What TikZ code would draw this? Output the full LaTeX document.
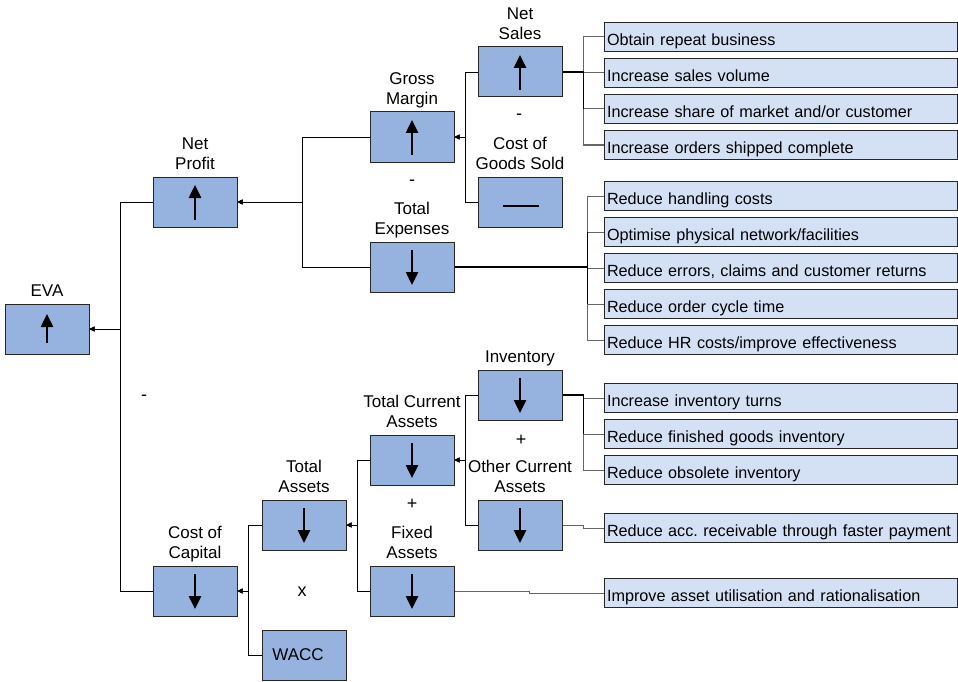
\documentclass[tikz,border=0pt]{standalone}
\usepackage{fontspec}
\setmainfont{Liberation Sans}
\usetikzlibrary{arrows.meta}
\definecolor{mainblue}{HTML}{95B3DE}
\definecolor{lightblue}{HTML}{D4E1F5}
\frenchspacing
\begin{document}
\begin{tikzpicture}[x=1pt,y=-1pt,
  mainbox/.style={draw=black!85, line width=1pt, fill=mainblue, minimum width=84pt, minimum height=50pt, inner sep=0pt, font=\fontsize{17}{20}\selectfont},
  tipbox/.style={draw=black!85, line width=0.9pt, fill=lightblue, minimum height=29.5pt, inner xsep=3pt, inner ysep=0pt, text width=347pt, align=left, text height=18pt, text depth=1.2pt, font=\fontsize{16.2}{19}\selectfont},
  lbl/.style={align=center, font=\fontsize{17}{20.4}\selectfont, inner sep=0pt, text depth=0pt, anchor=south},
  sign/.style={font=\fontsize{18}{20}\selectfont, inner sep=0pt},
  link/.style={draw=black, line width=0.9pt, -{Triangle[length=5pt,width=5pt]}},
  tiplink/.style={draw=black!60, line width=1pt},
  trunk/.style={draw=black, line width=1.8pt},
  bigarrow/.style={line width=2.5pt, -{Triangle[length=13pt,width=12pt]}},
]
\useasboundingbox (0,0) rectangle (958,682);

% main boxes
\node[mainbox] (eva) at (47,329) {};
\node[mainbox] (np) at (195,202) {};
\node[mainbox] (gm) at (412,137) {};
\node[mainbox] (ns) at (520,72) {};
\node[mainbox] (cogs) at (520,202) {};
\node[mainbox] (te) at (412,267) {};
\node[mainbox] (coc) at (195,591) {};
\node[mainbox] (ta) at (304,525) {};
\node[mainbox] (wacc) at (304,655) {\hspace*{-12pt}WACC};
\node[mainbox] (tca) at (412,460) {};
\node[mainbox] (fa) at (412,591) {};
\node[mainbox] (inv) at (520,395) {};
\node[mainbox] (oca) at (520,525) {};

% labels above boxes
\node[lbl] (leva) at ([yshift=7pt]eva.north) {EVA};
\node[lbl] (lnp) at ([yshift=6.5pt]np.north) {Net\\Profit};
\node[lbl] (lgm) at ([yshift=6.5pt]gm.north) {Gross\\Margin};
\node[lbl] (lns) at ([yshift=6.5pt]ns.north) {Net\\Sales};
\node[lbl] (lcogs) at ([yshift=6.5pt]cogs.north) {Cost of\\Goods Sold};
\node[lbl] (lte) at ([yshift=6.5pt]te.north) {Total\\Expenses};
\node[lbl] (lcoc) at ([yshift=6.5pt]coc.north) {Cost of\\Capital};
\node[lbl] (lta) at ([yshift=6.5pt]ta.north) {Total\\Assets};
\node[lbl] (ltca) at ([yshift=6.5pt]tca.north) {Total Current\\Assets};
\node[lbl] (lfa) at ([yshift=6.5pt]fa.north) {Fixed\\Assets};
\node[lbl] (linv) at ([yshift=7pt]inv.north) {Inventory};
\node[lbl] (loca) at ([yshift=6.5pt]oca.north) {Other Current\\Assets};

% signs
\node[sign] (s1) at (519,117) {-};
\node[sign] (s2) at (412,183) {-};
\node[sign] (s3) at (144,398) {-};
\node[sign] (s4) at (521,440) {+};
\node[sign] (s5) at (412,504) {+};
\node[sign] (s6) at (302,592) {x};

% arrows inside boxes
\draw[bigarrow] ([yshift=-14pt]eva.center) -- ([yshift=15pt]eva.center);
\foreach \n in {np,gm,ns}{
  \draw[bigarrow] ([yshift=-18pt]\n.center) -- ([yshift=17pt]\n.center);
}
\foreach \n in {te,coc,ta,tca,fa,inv,oca}{
  \draw[bigarrow] ([yshift=17pt]\n.center) -- ([yshift=-18pt]\n.center);
}
\draw[line width=2.5pt] ([xshift=-17pt,yshift=-4pt]cogs.center) -- ([xshift=19pt,yshift=-4pt]cogs.center);

% right boxes
\node[tipbox] (r1) at (780.5,37) {Obtain repeat business};
\node[tipbox] (r2) at (780.5,73) {Increase sales volume};
\node[tipbox] (r3) at (780.5,109) {Increase share of market and/or customer};
\node[tipbox] (r4) at (780.5,145) {Increase orders shipped complete};
\node[tipbox] (r5) at (780.5,196) {Reduce handling costs};
\node[tipbox] (r6) at (780.5,232) {Optimise physical network/facilities};
\node[tipbox] (r7) at (780.5,268) {Reduce errors, claims and customer returns};
\node[tipbox] (r8) at (780.5,304) {Reduce order cycle time};
\node[tipbox] (r9) at (780.5,340) {Reduce HR costs/improve effectiveness};
\node[tipbox] (r10) at (780.5,398) {Increase inventory turns};
\node[tipbox] (r11) at (780.5,434) {Reduce finished goods inventory};
\node[tipbox] (r12) at (780.5,470) {Reduce obsolete inventory};
\node[tipbox] (r13) at (780.5,528) {\mbox{Reduce acc. receivable through faster payment}};
\node[tipbox] (r14) at (780.5,593) {Improve asset utilisation and rationalisation};

% connectors to right boxes
\foreach \r in {r1,r2,r3,r4}{
  \draw[tiplink] (ns.east) -- ++(21,0) |- (\r.west);
}
\draw[trunk] (ns.east) -- ++(21,0) coordinate (nsj) -- (nsj |- r3.west);
\foreach \r in {r5,r6,r7,r8,r9}{
  \draw[tiplink] (te.east) -- ++(133,0) |- (\r.west);
}
\draw[trunk] (te.east) -- ++(133,0) coordinate (tej);
\draw[trunk] (tej |- r6.west) -- (tej |- r8.west);
\foreach \r in {r10,r11,r12}{
  \draw[tiplink] (inv.east) -- ++(21,0) |- (\r.west);
}
\draw[trunk] (inv.east) -- ++(21,0) coordinate (invj) -- (invj |- r11.west);
\draw[tiplink] (oca.east) -- ++(21,0) |- (r13.west);
\draw[tiplink] (fa.east) -- ++(75,0) |- (r14.west);

% tree connectors
\draw[link] (ns.west) -- ++(-12,0) |- (gm.east);
\draw[link] (cogs.west) -- ++(-12,0) |- (gm.east);
\draw[link] (gm.west) -- ++(-67,0) |- (np.east);
\draw[link] (te.west) -- ++(-67,0) |- (np.east);
\draw[link] (np.west) -- ++(-32,0) |- (eva.east);
\draw[link] (coc.west) -- ++(-32,0) |- (eva.east);
\draw[link] (ta.west) -- ++(-13,0) |- (coc.east);
\draw[link] (wacc.west) -- ++(-13,0) |- (coc.east);
\draw[link] (tca.west) -- ++(-12,0) |- (ta.east);
\draw[link] (fa.west) -- ++(-12,0) |- (ta.east);
\draw[link] (inv.west) -- ++(-12,0) |- (tca.east);
\draw[link] (oca.west) -- ++(-12,0) |- (tca.east);
\end{tikzpicture}
\end{document}
